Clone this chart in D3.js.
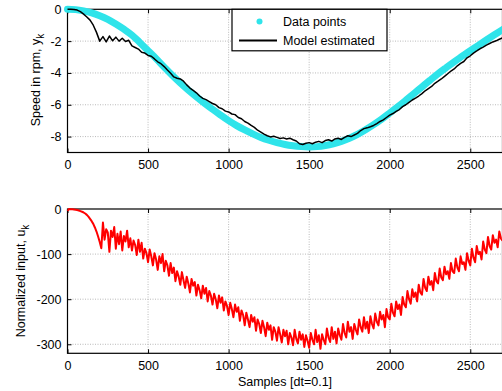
<!DOCTYPE html>
<html>
<head>
<meta charset="utf-8">
<script src="https://cdn.jsdelivr.net/npm/d3@7"></script>
<style>
body { margin: 0; background: #fff; }
svg { display: block; font-family: "Liberation Sans", Arial, sans-serif; }
.grid line { stroke: #a8a8a8; stroke-width: 0.8; stroke-dasharray: 1,1.5; }
.tick text { font-size: 12.5px; fill: #000; }
</style>
</head>
<body>
<svg width="502" height="391"></svg>
<script>
// speed data points (every 50 samples)
var speedStep = 50;
var speedData = [0, -0.02, -0.1, -0.22, -0.4, -0.63, -0.92, -1.25, -1.62, -2.1,
    -2.6, -3.1, -3.63, -4.15, -4.63, -5.08, -5.5, -5.9, -6.28, -6.65,
    -7.0, -7.31, -7.58, -7.83, -8.05, -8.23, -8.38, -8.5, -8.58, -8.63,
    -8.65, -8.63, -8.56, -8.45, -8.3, -8.1, -7.86, -7.57, -7.25, -6.9,
    -6.52, -6.13, -5.72, -5.3, -4.88, -4.46, -4.05, -3.67, -3.3, -2.95,
    -2.6, -2.27, -1.93, -1.6, -1.28];

// model estimated speed (every 20 samples)
var modelStep = 20;
var modelSpeed = [0, 0, -0.01, -0.05, -0.15, -0.3, -0.48, -0.68, -1.0, -1.45,
    -2.0, -1.72, -2.05, -1.68, -1.98, -1.75, -2.0, -1.82, -2.02, -1.95,
    -2.3, -2.4, -2.5, -2.7, -2.75, -2.9, -2.95, -3.12, -3.3, -3.42,
    -3.6, -3.82, -4.02, -4.25, -4.33, -4.38, -4.52, -4.75, -4.95, -5.1,
    -5.25, -5.45, -5.6, -5.68, -5.8, -5.92, -6.0, -6.18, -6.25, -6.4,
    -6.45, -6.58, -6.62, -6.8, -6.88, -7.05, -7.15, -7.3, -7.42, -7.6,
    -7.72, -7.85, -7.95, -8.02, -7.98, -8.05, -8.12, -8.08, -8.15, -8.1,
    -8.2, -8.28, -8.45, -8.5, -8.42, -8.38, -8.45, -8.35, -8.3, -8.38,
    -8.25, -8.2, -8.28, -8.15, -8.1, -8.18, -8.05, -7.95, -8.0, -7.9,
    -7.8, -7.62, -7.5, -7.45, -7.38, -7.3, -7.18, -7.05, -6.95, -6.8,
    -6.65, -6.55, -6.42, -6.3, -6.12, -6.0, -5.85, -5.7, -5.58, -5.45,
    -5.3, -5.12, -4.98, -4.85, -4.65, -4.52, -4.38, -4.22, -4.05, -3.88,
    -3.75, -3.55, -3.4, -3.28, -3.05, -2.92, -2.75, -2.62, -2.48, -2.38,
    -2.25, -2.15, -2.05, -1.98, -1.88, -1.8];

// normalized input (every 10 samples)
var inputStep = 10;
var inputData = [-4, 0, -0.3, -0.6, -1, -1.6, -2.4, -3.4, -4.6, -6,
    -7.8, -10, -13, -17, -22, -27, -33, -41, -50, -61,
    -73, -87, -30, -68, -45, -52, -95, -48, -62, -40,
    -88, -55, -78, -50, -92, -60, -72, -48, -85, -65,
    -92, -70, -80, -102, -68, -95, -75, -110, -88, -98,
    -118, -90, -105, -125, -98, -112, -135, -105, -120, -100,
    -138, -115, -125, -148, -120, -142, -130, -160, -138, -150,
    -168, -140, -158, -175, -150, -165, -185, -155, -170, -162,
    -192, -168, -180, -198, -170, -188, -175, -205, -182, -192,
    -212, -188, -200, -220, -192, -208, -196, -225, -205, -215,
    -235, -208, -222, -240, -212, -228, -218, -248, -225, -235,
    -258, -230, -245, -262, -235, -250, -240, -270, -245, -255,
    -275, -248, -262, -282, -252, -268, -258, -290, -262, -272,
    -292, -262, -278, -296, -268, -282, -270, -300, -275, -285,
    -302, -268, -288, -298, -272, -290, -278, -306, -280, -292,
    -308, -275, -290, -300, -268, -295, -280, -310, -278, -290,
    -300, -265, -285, -295, -262, -288, -272, -298, -265, -280,
    -290, -255, -275, -285, -250, -272, -262, -288, -255, -268,
    -278, -245, -262, -272, -240, -265, -250, -275, -238, -255,
    -265, -232, -250, -258, -228, -245, -235, -262, -222, -240,
    -245, -210, -230, -238, -205, -222, -212, -235, -195, -212,
    -218, -182, -200, -210, -178, -195, -185, -205, -168, -185,
    -190, -155, -175, -182, -150, -168, -160, -180, -142, -160,
    -165, -132, -152, -158, -128, -145, -138, -155, -120, -138,
    -142, -110, -130, -138, -105, -122, -118, -135, -98, -115,
    -125, -88, -108, -118, -82, -100, -95, -112, -72, -90,
    -98, -62, -82, -90, -58, -75, -68, -85, -50, -65,
    -70];

var xTicks = [0, 500, 1000, 1500, 2000, 2500];
var speedTicks = [0, -2, -4, -6, -8];
var inputTicks = [0, -100, -200, -300];
var legendLabels = ["Data points", "Model estimated"];

var svg = d3.select("svg");

var x = d3.scaleLinear().domain([0, 2700]).range([67.5, 502.5]);
var ySpeed = d3.scaleLinear().domain([-9, 0]).range([152.5, 9.3]);
var yInput = d3.scaleLinear().domain([-320, 0]).range([353.3, 209]);

// plain hyphen minus like the original figure
var fmt = function(d){ return String(d); };

function drawAxes (y, yTicks) {
    var top = y.range()[1], bottom = y.range()[0];
    var left = x.range()[0], right = x.range()[1];
    var g = svg.append("g");

    // dotted grid
    var grid = g.append("g").attr("class", "grid");
    grid.selectAll(".gx")
        .data(xTicks.slice(1))
        .enter()
        .append("line")
        .attr("x1", function(d){ return x(d); })
        .attr("x2", function(d){ return x(d); })
        .attr("y1", top).attr("y2", bottom);
    grid.selectAll(".gy")
        .data(yTicks.filter(function(d){ return y(d) > top + 1; }))
        .enter()
        .append("line")
        .attr("x1", left).attr("x2", right)
        .attr("y1", function(d){ return y(d); })
        .attr("y2", function(d){ return y(d); });

    g.append("g")
        .attr("transform", "translate(0," + bottom + ")")
        .call(d3.axisBottom(x).tickValues(xTicks).tickFormat(fmt)
            .tickSizeInner(-4).tickSizeOuter(0).tickPadding(8));
    g.append("g")
        .attr("transform", "translate(0," + top + ")")
        .call(d3.axisTop(x).tickValues(xTicks).tickSizeInner(-4).tickSizeOuter(0).tickFormat(""));
    g.append("g")
        .attr("transform", "translate(" + left + ",0)")
        .call(d3.axisLeft(y).tickValues(yTicks).tickFormat(fmt)
            .tickSizeInner(-4).tickSizeOuter(0).tickPadding(6));
    g.selectAll(".domain").remove();
    g.selectAll(".tick line").attr("stroke", "#000");

    g.append("rect")
        .attr("x", left).attr("y", top)
        .attr("width", right - left).attr("height", bottom - top)
        .attr("fill", "none")
        .attr("stroke", "#000")
        .attr("stroke-width", 1.2);
    return g;
}

/**
 * top panel: speed
 */
var topAxes = drawAxes(ySpeed, speedTicks);

svg.append("path")
    .datum(speedData)
    .attr("fill", "none")
    .attr("stroke", "#2fe4ea")
    .attr("stroke-width", 7)
    .attr("stroke-linecap", "round")
    .attr("stroke-linejoin", "round")
    .attr("d", d3.line()
        .curve(d3.curveCatmullRom)
        .x(function(d, i){ return x(i * speedStep); })
        .y(function(d){ return ySpeed(d); }));

svg.append("path")
    .datum(modelSpeed)
    .attr("fill", "none")
    .attr("stroke", "#000")
    .attr("stroke-width", 1.5)
    .attr("stroke-linejoin", "round")
    .attr("d", d3.line()
        .x(function(d, i){ return x(i * modelStep); })
        .y(function(d){ return ySpeed(d); }));

// legend
var legend = svg.append("g");
legend.append("rect")
    .attr("x", 232).attr("y", 9.3)
    .attr("width", 155).attr("height", 41.5)
    .attr("fill", "#fff")
    .attr("stroke", "#000")
    .attr("stroke-width", 1.2);
legend.append("circle")
    .attr("cx", 259.5).attr("cy", 21.5).attr("r", 3)
    .attr("fill", "#2fe4ea");
legend.append("line")
    .attr("x1", 239).attr("x2", 277)
    .attr("y1", 40.5).attr("y2", 40.5)
    .attr("stroke", "#000").attr("stroke-width", 2);
legend.selectAll(".lt")
    .data(legendLabels)
    .enter()
    .append("text")
    .attr("x", 283)
    .attr("y", function(d, i){ return 26 + i * 19.2; })
    .attr("font-size", "12.5px")
    .text(function(d){ return d; });

/**
 * bottom panel: input
 */
var bottomAxes = drawAxes(yInput, inputTicks);

svg.append("path")
    .datum(inputData)
    .attr("fill", "none")
    .attr("stroke", "#ff0000")
    .attr("stroke-width", 2)
    .attr("stroke-linejoin", "round")
    .attr("d", d3.line()
        .x(function(d, i){ return x(i * inputStep); })
        .y(function(d){ return yInput(d); }));

// axis labels
function yLabel (cx, cy, main, sub) {
    var t = svg.append("text")
        .attr("transform", "translate(" + cx + "," + cy + ") rotate(-90)")
        .attr("text-anchor", "middle")
        .attr("font-size", "12.5px");
    t.append("tspan").text(main);
    t.append("tspan").attr("dy", 4).attr("font-size", "10px").text(sub);
}
yLabel(40, 80, "Speed in rpm, y", "k");
yLabel(25, 281, "Normalized input, u", "k");

svg.append("text")
    .attr("x", 285).attr("y", 386)
    .attr("text-anchor", "middle")
    .attr("font-size", "12.5px")
    .text("Samples [dt=0.1]");
</script>
</body>
</html>
